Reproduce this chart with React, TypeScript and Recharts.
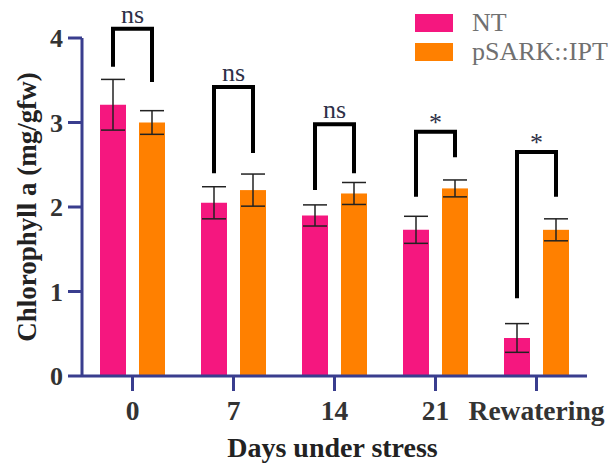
import React from 'react';
import { BarChart, Bar, XAxis, YAxis, ErrorBar, Legend } from 'recharts';

const days = ['0', '7', '14', '21', 'Rewatering'];
const ntMean = [3.21, 2.05, 1.9, 1.73, 0.45];
const ntSem = [0.3, 0.19, 0.125, 0.16, 0.17];
const iptMean = [3.0, 2.2, 2.16, 2.22, 1.73];
const iptSem = [0.14, 0.19, 0.13, 0.1, 0.13];

// significance brackets, in chart units: crossbar, NT foot, IPT foot
const bracketTop = [4.11, 3.42, 2.98, 2.89, 2.65];
const bracketLeft = [3.66, 2.4, 2.2, 2.12, 0.92];
const bracketRight = [3.48, 2.64, 2.4, 2.59, 2.12];
const significance = ['ns', 'ns', 'ns', '*', '*'];

const NT_COLOR = '#F5177F';
const IPT_COLOR = '#FF8000';
const AXIS_COLOR = '#393D8E';
const SERIF = '"Liberation Serif", "Times New Roman", serif';
const BAR_SIZE = 26;
const BAR_GAP = 13;

const data = days.map((day, i) => ({
  day,
  nt: ntMean[i],
  ntErr: ntSem[i],
  ipt: iptMean[i],
  iptErr: iptSem[i],
}));

// IPT bar plus the comparison bracket over both bars of its group
const IptBarWithBracket = (props: any) => {
  const { x, y, width, height, fill, payload } = props;
  const i = days.indexOf(payload.day);
  const base = y + height;
  const perUnit = height / iptMean[i];
  const toY = (v: number) => base - v * perUnit;
  const right = x + width / 2;
  const left = right - width - BAR_GAP;
  const top = toY(bracketTop[i]);
  const isStar = significance[i] === '*';
  return (
    <g>
      <rect x={x} y={y} width={width} height={height} fill={fill} />
      <path
        d={`M${left},${toY(bracketLeft[i])}V${top}H${right}V${toY(bracketRight[i])}`}
        stroke="#000"
        strokeWidth={4}
        fill="none"
        strokeLinejoin="miter"
      />
      <text
        x={(left + right) / 2}
        y={top - (isStar ? 1 : 6)}
        textAnchor="middle"
        fontFamily={SERIF}
        fontSize={26}
        fill="#2E3047"
      >
        {significance[i]}
      </text>
    </g>
  );
};

const renderLegend = () => (
  <div style={{ fontFamily: SERIF, fontSize: 26, color: '#707070', lineHeight: '29px' }}>
    {[
      { name: 'NT', color: NT_COLOR },
      { name: 'pSARK::IPT', color: IPT_COLOR },
    ].map((item) => (
      <div key={item.name} style={{ display: 'flex', alignItems: 'center', whiteSpace: 'nowrap' }}>
        <span style={{ display: 'inline-block', width: 38, height: 18, background: item.color, marginRight: 19 }} />
        <span>{item.name}</span>
      </div>
    ))}
  </div>
);

const YLabel = (props: any) => {
  const { viewBox } = props;
  const cy = viewBox.y + viewBox.height / 2;
  return (
    <text
      x={27}
      y={cy}
      transform={`rotate(-90, 27, ${cy})`}
      textAnchor="middle"
      dominantBaseline="central"
      fontFamily={SERIF}
      fontWeight="bold"
      fontSize={27}
      fill="#222"
    >
      Chlorophyll a (mg/gfw)
    </text>
  );
};

const XLabel = (props: any) => {
  const { viewBox } = props;
  return (
    <text
      x={viewBox.x + viewBox.width / 2 - 2}
      y={457}
      textAnchor="middle"
      fontFamily={SERIF}
      fontWeight="bold"
      fontSize={28}
      fill="#222"
    >
      Days under stress
    </text>
  );
};

export default function App() {
  const yTickStyle = { fontFamily: SERIF, fontWeight: 'bold', fontSize: 26, fill: '#333' };
  const xTickStyle = { fontFamily: SERIF, fontWeight: 'bold', fontSize: 27.5, fill: '#333' };
  return (
    <div style={{ position: 'absolute', left: 0, top: 0, background: '#fff' }}>
      <BarChart
        width={610}
        height={464}
        data={data}
        margin={{ top: 38, right: 23, bottom: 0, left: 0 }}
        barSize={BAR_SIZE}
        barGap={BAR_GAP}
      >
        <XAxis
          dataKey="day"
          height={88}
          axisLine={{ stroke: AXIS_COLOR, strokeWidth: 3 }}
          tickLine={{ stroke: AXIS_COLOR, strokeWidth: 3 }}
          tickSize={15}
          tickMargin={9}
          tick={xTickStyle}
          interval={0}
          label={<XLabel />}
        />
        <YAxis
          width={82}
          domain={[0, 4]}
          ticks={[0, 1, 2, 3, 4]}
          axisLine={{ stroke: AXIS_COLOR, strokeWidth: 3 }}
          tickLine={{ stroke: AXIS_COLOR, strokeWidth: 3 }}
          tickSize={14}
          tickMargin={5}
          tick={yTickStyle}
          label={<YLabel />}
        />
        <Legend
          layout="vertical"
          align="center"
          verticalAlign="middle"
          content={renderLegend}
          wrapperStyle={{ left: 415, top: 8, width: 195 }}
        />
        <Bar dataKey="nt" name="NT" fill={NT_COLOR} isAnimationActive={false}>
          <ErrorBar dataKey="ntErr" width={12} stroke="#222" strokeWidth={1.5} />
        </Bar>
        <Bar dataKey="ipt" name="pSARK::IPT" fill={IPT_COLOR} isAnimationActive={false} shape={IptBarWithBracket}>
          <ErrorBar dataKey="iptErr" width={12} stroke="#222" strokeWidth={1.5} />
        </Bar>
      </BarChart>
    </div>
  );
}
